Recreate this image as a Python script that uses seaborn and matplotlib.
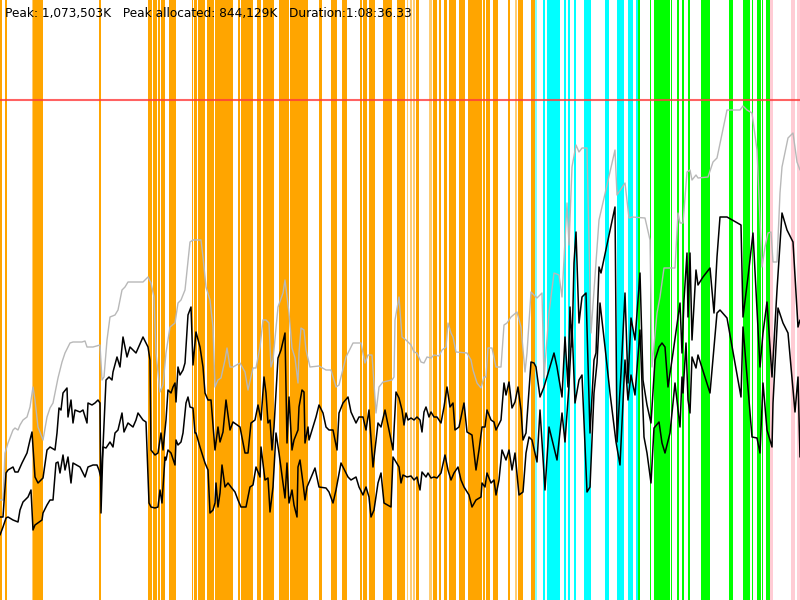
import matplotlib
matplotlib.use("Agg")
import matplotlib.pyplot as plt
import seaborn as sns
import pandas as pd
import numpy as np

# ---- data (x = time index, y = screen depth units; axis inverted) ----
grey_x = [0,3,5,8,13,15,18,20,23,27,30,33,35,38,43,47,50,53,58,62,65,70,73,82,85,87,93,100,102,104,107,110,115,118,122,125,128,143,148,151,154,156,160,163,166,170,175,178,181,185,190,193,201,203,206,210,213,215,218,221,225,227,230,233,240,245,248,253,256,260,263,266,269,271,273,278,283,285,289,292,295,298,299,301,304,306,310,319,326,331,336,339,346,353,361,365,368,372,376,379,383,392,394,395,399,402,406,411,414,417,421,424,427,431,434,439,442,446,448,451,453,456,467,471,473,477,481,484,486,488,492,496,501,504,507,511,517,521,525,527,531,537,542,544,549,554,559,562,567,569,572,576,579,582,587,591,599,607,615,617,625,629,632,645,650,652,657,660,664,675,678,680,683,687,690,692,696,698,708,713,717,727,740,743,747,752,757,762,765,768,771,773,777,780,782,788,793,797,800]
grey_y = [500,500,453,443,430,428,430,425,420,417,407,387,400,427,440,417,408,403,378,362,353,343,342,342,341,347,347,345,380,377,340,317,315,310,290,287,282,282,277,283,297,353,392,385,353,327,323,303,300,290,242,240,240,257,287,300,327,387,380,378,360,348,367,367,363,372,390,368,368,347,320,320,323,367,360,307,293,280,313,348,358,383,353,328,330,350,367,366,370,370,387,385,357,343,343,363,355,355,413,387,382,380,377,320,297,337,340,345,352,353,362,363,357,358,355,356,350,347,323,333,337,352,353,360,370,383,388,377,377,348,348,367,367,325,323,317,312,327,372,353,292,298,293,378,313,273,275,297,203,245,167,145,152,148,148,333,220,185,150,195,183,218,217,218,240,367,313,297,268,268,213,223,223,172,170,180,175,178,177,162,158,110,110,106,110,113,150,267,247,233,232,262,262,193,167,138,133,162,170]

hi_x = [0,3,6,8,13,15,18,22,27,30,32,35,38,43,47,50,55,57,59,61,63,67,68,71,73,75,80,83,87,88,92,95,98,100,101,103,106,109,112,113,117,120,123,127,130,133,136,143,148,150,151,155,158,161,163,166,168,171,173,175,176,178,180,183,185,188,191,193,196,200,203,205,208,211,215,218,220,223,226,230,233,240,245,248,251,255,258,261,264,266,268,270,272,274,278,281,285,287,289,292,294,298,299,302,304,305,308,309,313,316,319,323,326,329,333,337,339,343,348,351,356,359,363,366,369,373,378,381,385,389,393,396,399,402,404,406,408,411,414,417,420,422,424,426,429,431,434,437,441,444,447,450,453,455,459,464,467,472,476,479,482,485,487,491,494,496,501,504,506,509,512,515,518,521,523,526,531,534,536,540,544,549,554,557,562,565,568,570,572,574,576,579,582,586,590,594,596,599,601,615,617,621,625,628,631,635,640,643,647,651,655,659,662,665,668,673,680,682,684,687,688,690,692,696,698,703,710,714,717,720,727,741,743,748,753,760,763,767,772,777,782,787,793,798,800]
hi_y = [517,517,473,470,467,472,472,463,453,440,432,477,483,478,450,447,450,433,408,410,393,388,417,400,423,410,412,410,423,403,405,403,400,403,513,447,380,377,380,372,357,367,337,357,347,350,353,337,347,360,450,455,453,433,450,420,390,393,387,383,402,367,375,370,363,315,307,365,332,347,367,393,400,400,450,427,442,432,400,430,422,427,453,453,423,420,405,420,377,393,423,420,450,427,358,350,333,443,397,450,440,430,407,390,392,443,427,440,427,417,405,413,427,430,430,450,413,403,397,412,423,417,417,430,410,467,423,427,410,430,450,392,398,410,425,413,420,418,420,417,420,432,412,407,417,412,417,417,423,407,387,407,403,430,427,403,432,435,470,450,427,427,410,420,422,430,420,383,395,382,408,402,387,410,440,433,362,363,367,397,387,370,353,367,397,337,387,307,347,263,232,323,297,293,433,360,353,267,273,207,442,373,293,383,318,340,273,380,405,423,360,347,343,347,387,353,303,353,300,253,317,253,340,270,285,277,268,313,257,217,217,225,317,277,233,367,333,302,377,290,213,230,242,327,320]

lo_x = [0,3,6,8,13,18,20,23,28,31,33,35,42,43,47,50,53,56,58,60,63,65,68,71,73,80,85,88,93,97,99,101,103,106,110,113,115,118,122,124,128,133,136,138,143,146,149,151,155,158,160,162,165,166,168,171,175,176,178,181,183,186,188,190,193,195,196,200,205,208,210,213,215,216,218,220,222,225,228,231,235,238,241,246,250,253,256,260,261,265,268,270,273,276,279,283,285,287,289,292,294,297,298,300,303,305,307,310,315,319,326,329,333,336,341,348,351,356,359,363,366,369,371,374,378,381,384,391,393,396,399,401,403,407,411,414,417,420,422,426,428,431,434,437,441,445,448,451,454,458,461,464,469,472,476,481,482,485,487,491,494,496,499,502,506,509,512,515,519,523,526,529,532,537,540,545,549,557,562,565,569,572,575,579,582,587,590,594,597,600,605,610,616,620,625,628,631,635,640,644,647,651,654,659,662,665,670,675,680,682,683,686,688,690,692,696,698,710,717,720,727,741,743,752,757,760,763,767,772,773,778,783,788,795,798,800]
lo_y = [535,527,518,517,520,522,510,502,497,490,530,525,520,513,505,500,500,463,462,473,455,470,457,483,463,467,477,467,465,465,470,478,447,448,442,447,433,430,413,432,423,427,420,413,420,422,503,507,508,507,490,503,457,460,450,453,465,440,445,442,433,403,397,407,408,433,433,447,463,470,513,510,503,483,507,493,465,487,483,487,492,500,507,507,487,485,467,477,447,480,478,512,487,433,453,483,498,463,503,490,505,517,467,460,483,500,487,480,468,487,488,492,503,490,463,477,480,477,487,495,487,497,517,510,483,473,503,507,457,462,467,483,475,477,476,480,477,490,472,477,473,478,477,478,473,455,470,480,473,467,480,487,495,507,500,497,483,487,473,483,480,495,480,450,460,450,470,453,495,492,453,437,440,462,410,490,427,460,413,442,385,325,403,380,375,492,487,393,363,303,347,393,442,465,360,400,375,395,330,437,453,483,428,422,443,453,433,383,427,377,393,343,400,413,357,368,355,393,313,310,318,397,327,437,438,453,383,430,447,403,308,323,333,412,377,457]

band_start = [0,5,32,33,99,148,153,158,161,169,192,194,198,200,207,215,217,238,241,257,263,279,290,300,319,331,342,360,363,369,383,397,407,410,413,416,429,433,439,444,449,459,468,483,486,493,508,515,518,520,531,535,543,547,558,564,568,574,584,605,617,628,636,638,650,654,668,671,677,682,688,701,729,743,752,757,762,766,770,791,797]
band_end   = [2,7,33,43,101,152,157,160,165,176,193,197,200,205,214,217,233,240,253,261,274,289,300,308,322,337,347,362,367,375,392,405,408,412,415,419,432,437,441,447,456,465,482,485,490,498,510,517,523,523,535,537,545,558,560,566,570,576,591,609,624,633,639,640,651,668,670,672,679,684,690,710,733,750,753,761,763,770,773,795,800]
band_kind  = (["o", "o", "ol"] + ["o"] * 29 + ["ol", "ol", "ol", "o", "ol"]
              + ["o"] * 10 + ["ol", "o", "o", "o"]
              + ["cl"] + ["c"] * 11 + ["g"] * 15 + ["p"] * 3)

peak_line = 100
header = "Peak: 1,073,503K   Peak allocated: 844,129K   Duration:1:08:36.33"

# ---- drawing ----
sns.set_theme(style="white")
plt.rcParams['font.family'] = ['DejaVu Sans']

fig = plt.figure(figsize=(8, 6), dpi=100)
ax = fig.add_axes([0, 0, 1, 1])

palette = {"o": ("#FFA500", 1.0), "ol": ("#FFA500", 0.55),
           "c": ("#00FFFF", 1.0), "cl": ("#00FFFF", 0.5),
           "g": ("#00FF00", 1.0), "p": ("#FFC0CB", 0.8)}
for s, e, k in zip(band_start, band_end, band_kind):
    col, a = palette[k]
    ax.axvspan(s, e, color=col, alpha=a, lw=0, zorder=0)

df_g = pd.DataFrame({"t": grey_x, "v": grey_y})
df_h = pd.DataFrame({"t": hi_x, "v": hi_y})
df_l = pd.DataFrame({"t": lo_x, "v": lo_y})
sns.lineplot(data=df_g, x="t", y="v", ax=ax, color="#b8b8b8", lw=1.0,
             estimator=None, sort=False, zorder=2)
sns.lineplot(data=df_h, x="t", y="v", ax=ax, color="black", lw=1.1,
             estimator=None, sort=False, zorder=3)
sns.lineplot(data=df_l, x="t", y="v", ax=ax, color="black", lw=1.1,
             estimator=None, sort=False, zorder=3)

ax.axhline(peak_line, color="#ff3b3b", alpha=0.8, lw=1.5, zorder=4)

ax.set_xlim(0, 800)
ax.set_ylim(600, 0)
ax.axis("off")

ax.text(5, 13, header, fontsize=8.7, color="black", va="center", ha="left", zorder=5)

fig.savefig("out.png", dpi=100)
